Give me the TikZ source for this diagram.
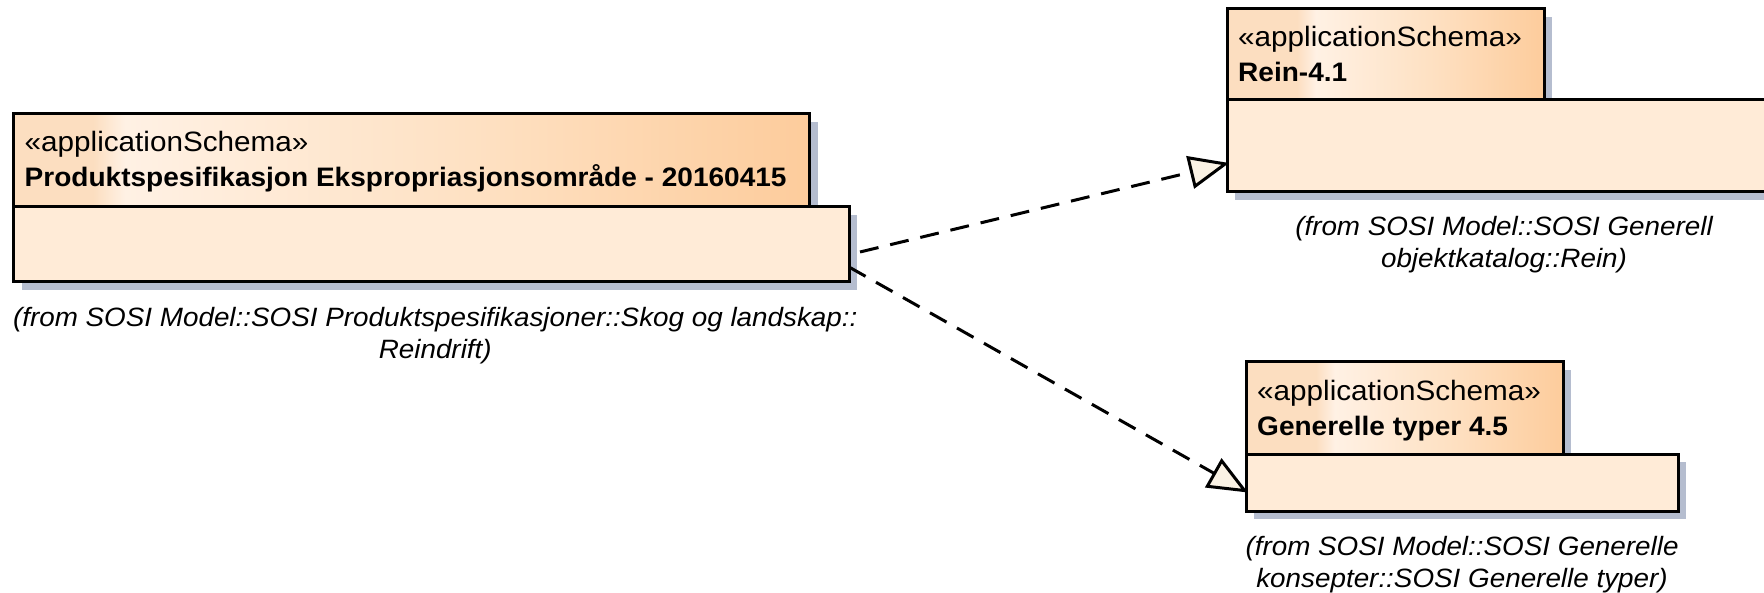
\documentclass[tikz,border=0pt]{standalone}
\usepackage{fontspec}
\setmainfont{Liberation Sans}[FakeStretch=1.05]
\newfontfamily\stfont{Liberation Sans}[FakeStretch=1.06]
\usetikzlibrary{arrows.meta,calc,backgrounds}
\definecolor{bodyc}{RGB}{255,235,215}
\definecolor{tabA}{RGB}{252,222,192}
\definecolor{tabB}{RGB}{255,241,228}
\definecolor{tabC}{RGB}{254,224,193}
\definecolor{tabD}{RGB}{253,204,156}
\definecolor{shadowc}{RGB}{181,189,207}
\definecolor{tipc}{RGB}{250,242,228}
\pgfdeclarehorizontalshading{tabsmall}{100bp}{color(0bp)=(tabA); color(25bp)=(tabA); color(36bp)=(tabA); color(39bp)=(tabB); color(58bp)=(tabC); color(75bp)=(tabD); color(100bp)=(tabD)}
\pgfdeclarehorizontalshading{tabwide}{100bp}{color(0bp)=(tabA); color(25bp)=(tabA); color(30bp)=(tabA); color(32bp)=(tabB); color(55bp)=(tabC); color(75bp)=(tabD); color(100bp)=(tabD)}
\begin{document}
\begin{tikzpicture}[x=1pt,y=-1pt,
  font=\fontsize{26.5}{32}\selectfont,
  box/.style={draw=black, line width=3pt, rectangle, inner sep=0pt, outer sep=0pt, anchor=north west},
  tabbox/.style={box, shade, shading=tabsmall},
  tabwidebox/.style={box, shade, shading=tabwide},
  bodybox/.style={box, fill=bodyc},
  stereo/.style={anchor=base west, inner sep=0pt, font=\stfont\fontsize{28}{34}\selectfont},
  titletxt/.style={anchor=base west, inner sep=0pt, font=\fontsize{26.7}{33}\selectfont\bfseries},
  lbl/.style={anchor=base, inner sep=0pt, font=\fontsize{26.5}{32}\selectfont\itshape},
  dep/.style={draw=black, line width=3pt, dash pattern=on 19pt off 12pt, -{Triangle[length=40pt,width=33pt,fill=tipc]}},
  shadowfill/.style={fill=shadowc}
]
\useasboundingbox (0,0) rectangle (1764,593);

% package 1
\node[tabwidebox, minimum width=796pt, minimum height=93pt] (p1tab) at (13.5,114) {};
\node[bodybox, minimum width=835.5pt, minimum height=75pt] (p1body) at (13.5,207) {};
\node[stereo] (p1st) at ($(p1tab.north west)+(11,38)$) {«applicationSchema»};
\node[titletxt] (p1ti) at ($(p1tab.north west)+(11,73)$) {Produktspesifikasjon Ekspropriasjonsområde - 20160415};
\node[lbl] (p1l1) at ($(p1body.south)+(4,45)$) {(from SOSI Model::SOSI Produktspesifikasjoner::Skog og landskap::};
\node[lbl] (p1l2) at ($(p1body.south)+(4,77)$) {Reindrift)};

% package 2
\node[tabbox, minimum width=317pt, minimum height=91pt] (p2tab) at (1227,9) {};
\node[bodybox, minimum width=562pt, minimum height=92pt] (p2body) at (1227,100) {};
\node[stereo] (p2st) at ($(p2tab.north west)+(11,38)$) {«applicationSchema»};
\node[titletxt] (p2ti) at ($(p2tab.north west)+(11,73)$) {Rein-4.1};
\node[lbl] (p2l1) at ($(p2body.south)+(-4,44)$) {(from SOSI Model::SOSI Generell};
\node[lbl] (p2l2) at ($(p2body.south)+(-4,76)$) {objektkatalog::Rein)};

% package 3
\node[tabbox, minimum width=317pt, minimum height=92pt] (p3tab) at (1246,362) {};
\node[bodybox, minimum width=432pt, minimum height=57pt] (p3body) at (1246,454) {};
\node[stereo] (p3st) at ($(p3tab.north west)+(11,38)$) {«applicationSchema»};
\node[titletxt] (p3ti) at ($(p3tab.north west)+(11,73)$) {Generelle typer 4.5};
\node[lbl] (p3l1) at ($(p3body.south)+(0,44)$) {(from SOSI Model::SOSI Generelle};
\node[lbl] (p3l2) at ($(p3body.south)+(0,76)$) {konsepter::SOSI Generelle typer)};

% shadows
\begin{scope}[on background layer]
\foreach \n in {p1tab,p1body,p2tab,p2body,p3tab,p3body}{
  \fill[shadowfill] ($(\n.north west)+(8,8)$) rectangle ($(\n.south east)+(8,8)$);
}
\end{scope}

% connectors
\draw[dep] ($(p1body.east)+(11,7.5)$) -- ($(p2body.west)+(2,17)$);
\draw[dep] ($(p1body.east)+(0,22.5)$) -- ($(p3body.west)+(2,10)$);
\end{tikzpicture}
\end{document}
